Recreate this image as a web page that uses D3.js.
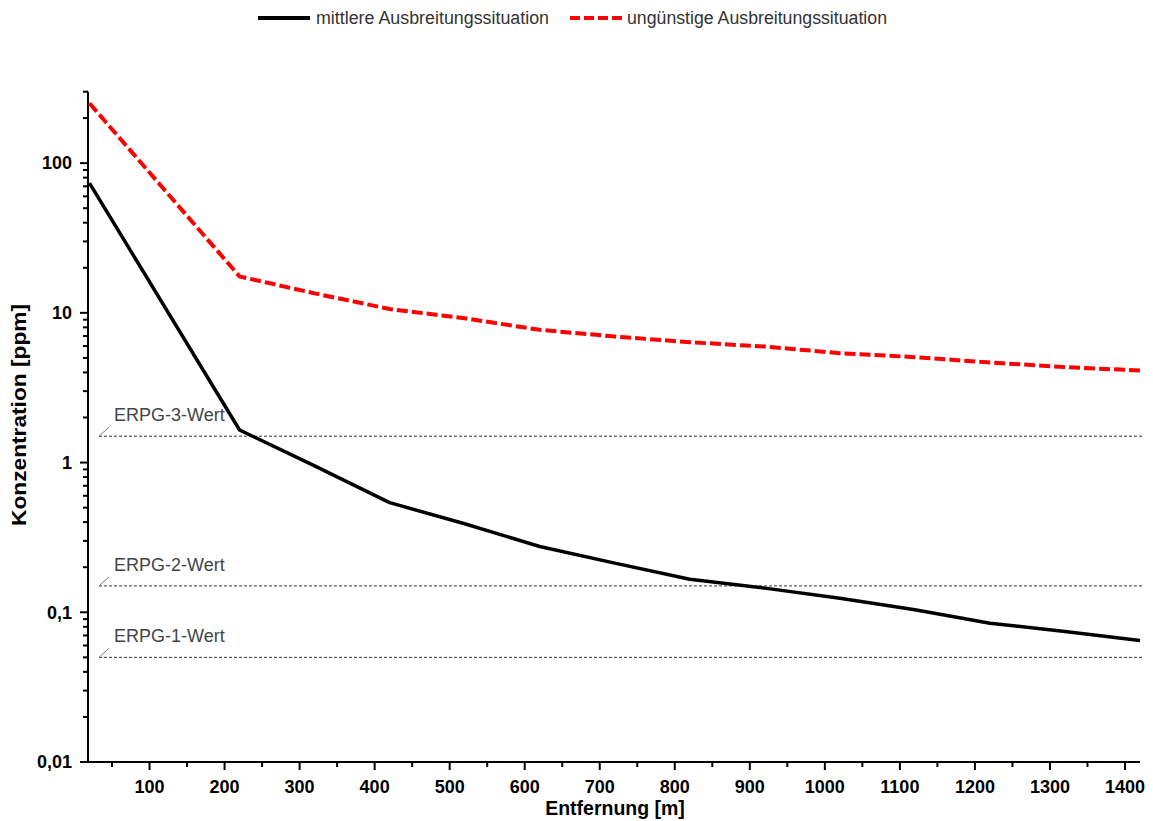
<!DOCTYPE html>
<html>
<head>
<meta charset="utf-8">
<script src="https://cdn.jsdelivr.net/npm/d3@7"></script>
<style>
  body { margin: 0; background: #fff; }
  svg { font-family: "Liberation Sans", Arial, sans-serif; }
</style>
</head>
<body>
<svg id="chart" width="1153" height="821"></svg>
<script>
// distances in m
const distances = [20, 220, 320, 420, 520, 620, 720, 820, 920, 1020, 1120, 1220, 1320, 1420];
// concentration in ppm
const mittlere = [73.5, 1.65, 0.95, 0.54, 0.39, 0.275, 0.213, 0.166, 0.145, 0.124, 0.104, 0.0846, 0.0743, 0.0647];
const unguenstige = [251, 17.5, 13.5, 10.6, 9.2, 7.7, 6.95, 6.37, 5.95, 5.38, 5.06, 4.66, 4.34, 4.12];

const erpgValues = [1.5, 0.15, 0.05];
const erpgLabels = ["ERPG-3-Wert", "ERPG-2-Wert", "ERPG-1-Wert"];

const seriesNames = ["mittlere Ausbreitungssituation", "ungünstige Ausbreitungssituation"];
const xTicks = [100, 200, 300, 400, 500, 600, 700, 800, 900, 1000, 1100, 1200, 1300, 1400];
const yTicks = [0.01, 0.1, 1, 10, 100];

const svg = d3.select("#chart");
const plotLeft = 88, plotRight = 1140, plotTop = 91.7, plotBottom = 762;

const x = d3.scaleLinear().domain([18, 1420]).range([plotLeft, plotRight]);
const y = d3.scaleLog().domain([0.01, 300]).range([plotBottom, plotTop]);

const fmt = d => String(d).replace(".", ",");

// minor ticks
const xMinor = d3.range(50, 1420, 100);
const yMinor = [];
for (let dec = 0.01; dec < 300; dec *= 10) {
    for (let k = 2; k <= 9; k++) {
        const v = +(dec * k).toPrecision(3);
        if (v <= 300) yMinor.push(v);
    }
}

// x axis
const xAxis = svg.append("g").attr("transform", `translate(0,${plotBottom})`);
xAxis.append("line").attr("x1", plotLeft - 1).attr("x2", plotRight).attr("stroke", "#000").attr("stroke-width", 2);
xAxis.selectAll(".minor").data(xMinor).join("line")
    .attr("x1", d => x(d)).attr("x2", d => x(d))
    .attr("y1", 0).attr("y2", 5)
    .attr("stroke", "#000").attr("stroke-width", 2);
xAxis.selectAll(".major").data(xTicks).join("line")
    .attr("x1", d => x(d)).attr("x2", d => x(d))
    .attr("y1", 0).attr("y2", 8)
    .attr("stroke", "#000").attr("stroke-width", 2);
xAxis.selectAll("text").data(xTicks).join("text")
    .attr("x", d => x(d)).attr("y", 31)
    .attr("text-anchor", "middle")
    .attr("font-size", 18).attr("font-weight", "bold")
    .text(d => d);

// y axis
const yAxis = svg.append("g").attr("transform", `translate(${plotLeft},0)`);
yAxis.append("line").attr("y1", plotTop).attr("y2", plotBottom + 1).attr("stroke", "#000").attr("stroke-width", 2);
yAxis.selectAll(".minor").data(yMinor).join("line")
    .attr("y1", d => y(d)).attr("y2", d => y(d))
    .attr("x1", -5).attr("x2", 0)
    .attr("stroke", "#000").attr("stroke-width", 2);
yAxis.selectAll(".major").data(yTicks).join("line")
    .attr("y1", d => y(d)).attr("y2", d => y(d))
    .attr("x1", -8).attr("x2", 0)
    .attr("stroke", "#000").attr("stroke-width", 2);
yAxis.selectAll("text").data(yTicks).join("text")
    .attr("x", -16).attr("y", d => y(d))
    .attr("dy", "0.35em")
    .attr("text-anchor", "end")
    .attr("font-size", 18).attr("font-weight", "bold")
    .text(d => fmt(d));

// axis titles
svg.append("text")
    .attr("x", (plotLeft + plotRight) / 2 + 1).attr("y", 815)
    .attr("text-anchor", "middle")
    .attr("font-size", 19.5).attr("font-weight", "bold")
    .text("Entfernung [m]");
svg.append("text")
    .attr("transform", `translate(26,415) rotate(-90)`)
    .attr("text-anchor", "middle")
    .attr("font-size", 20).attr("font-weight", "bold")
    .attr("textLength", 222).attr("lengthAdjust", "spacingAndGlyphs")
    .text("Konzentration [ppm]");

// ERPG reference lines
const erpg = svg.append("g");
erpg.selectAll("line.ref").data(erpgValues).join("line")
    .attr("class", "ref")
    .attr("x1", 99).attr("x2", 1142)
    .attr("y1", d => y(d)).attr("y2", d => y(d))
    .attr("stroke", "#333").attr("stroke-width", 1)
    .attr("stroke-dasharray", "3,2");
erpg.selectAll("line.lead").data(erpgValues).join("line")
    .attr("class", "lead")
    .attr("x1", 99).attr("x2", 109)
    .attr("y1", d => y(d)).attr("y2", d => y(d) - 9)
    .attr("stroke", "#777").attr("stroke-width", 1);
erpg.selectAll("text").data(erpgValues).join("text")
    .attr("x", 114).attr("y", d => y(d) - 15)
    .attr("font-size", 18).attr("fill", "#444")
    .text((d, i) => erpgLabels[i]);

// series
const line = d3.line().x((d, i) => x(distances[i])).y(d => y(d));

svg.append("path").datum(mittlere)
    .attr("d", line)
    .attr("fill", "none").attr("stroke", "#000")
    .attr("stroke-width", 3.5).attr("stroke-linejoin", "round");

svg.append("path").datum(unguenstige)
    .attr("d", line)
    .attr("fill", "none").attr("stroke", "#ff0000")
    .attr("stroke-width", 4).attr("stroke-dasharray", "11,4");

// legend
const legend = svg.append("g");
legend.append("line").attr("x1", 258).attr("x2", 310).attr("y1", 18).attr("y2", 18)
    .attr("stroke", "#000").attr("stroke-width", 4);
legend.append("text").attr("x", 316).attr("y", 24)
    .attr("font-size", 18).attr("fill", "#333")
    .attr("textLength", 233).attr("lengthAdjust", "spacingAndGlyphs")
    .text(seriesNames[0]);
legend.append("line").attr("x1", 570).attr("x2", 622).attr("y1", 18).attr("y2", 18)
    .attr("stroke", "#ff0000").attr("stroke-width", 4).attr("stroke-dasharray", "10,4");
legend.append("text").attr("x", 627).attr("y", 24)
    .attr("font-size", 18).attr("fill", "#333")
    .attr("textLength", 260).attr("lengthAdjust", "spacingAndGlyphs")
    .text(seriesNames[1]);
</script>
</body>
</html>
